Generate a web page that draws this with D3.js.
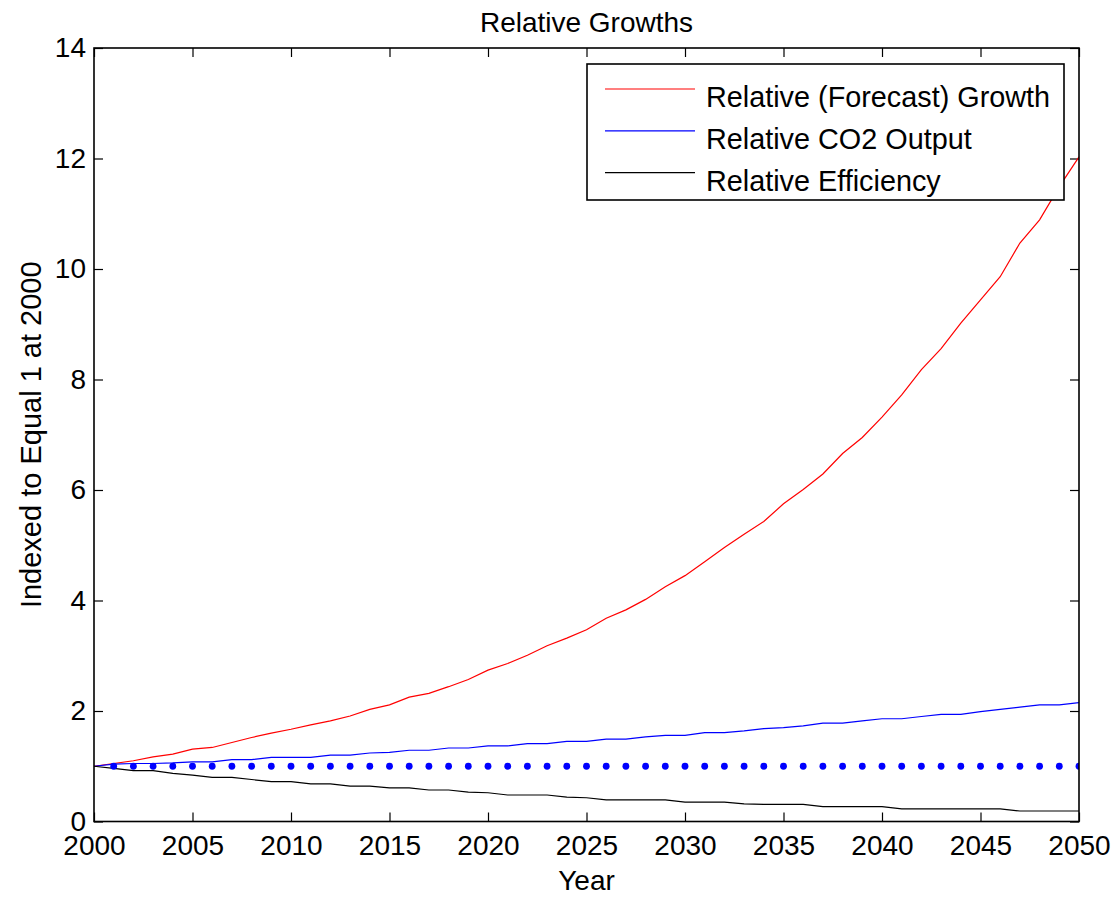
<!DOCTYPE html>
<html>
<head>
<meta charset="utf-8">
<script src="https://cdn.jsdelivr.net/npm/d3@7"></script>
<style>
  body { margin: 0; background: #fff; }
  svg text { font-family: "Liberation Sans", Arial, Helvetica, sans-serif; fill: #000; }
</style>
</head>
<body>
<div id="chart"></div>
<script>
const width = 1112;
const height = 897;
const box = { left: 94, right: 1079, top: 48, bottom: 821.5 };

// data
const years = d3.range(2000, 2051);
const growth = [
    1.00, 1.05, 1.10, 1.17, 1.22, 1.31, 1.34, 1.43, 1.52, 1.60,
    1.67, 1.75, 1.82, 1.91, 2.03, 2.11, 2.25, 2.32, 2.44, 2.57,
    2.74, 2.86, 3.01, 3.18, 3.32, 3.47, 3.68, 3.83, 4.02, 4.25,
    4.45, 4.70, 4.96, 5.20, 5.43, 5.75, 6.01, 6.29, 6.66, 6.95,
    7.32, 7.72, 8.18, 8.56, 9.02, 9.44, 9.86, 10.47, 10.89, 11.49,
    12.03
];
const co2 = [
    1.00, 1.04, 1.05, 1.05, 1.06, 1.08, 1.08, 1.12, 1.12, 1.16,
    1.16, 1.16, 1.20, 1.20, 1.24, 1.25, 1.29, 1.29, 1.33, 1.33,
    1.37, 1.37, 1.41, 1.41, 1.45, 1.45, 1.49, 1.49, 1.53, 1.56,
    1.56, 1.61, 1.61, 1.64, 1.68, 1.70, 1.73, 1.78, 1.78, 1.82,
    1.86, 1.86, 1.90, 1.94, 1.94, 1.99, 2.03, 2.07, 2.11, 2.11,
    2.15
];
const efficiency = [
    1.00, 0.96, 0.92, 0.92, 0.87, 0.84, 0.80, 0.80, 0.76, 0.72,
    0.72, 0.68, 0.68, 0.64, 0.64, 0.61, 0.61, 0.57, 0.57, 0.53,
    0.52, 0.48, 0.48, 0.48, 0.44, 0.43, 0.39, 0.39, 0.39, 0.39,
    0.35, 0.35, 0.35, 0.32, 0.31, 0.31, 0.31, 0.27, 0.27, 0.27,
    0.27, 0.23, 0.23, 0.23, 0.23, 0.23, 0.23, 0.19, 0.19, 0.19,
    0.19
];
// dotted reference at 1.0
const refYears = d3.range(2001, 2051);
const refValue = 1;

const xTicks = [2000, 2005, 2010, 2015, 2020, 2025, 2030, 2035, 2040, 2045, 2050];
const yTicks = [0, 2, 4, 6, 8, 10, 12, 14];

const seriesNames = ['Relative (Forecast) Growth', 'Relative CO2 Output', 'Relative Efficiency'];
const seriesColors = ['#ff0000', '#0000ff', '#000000'];

const svg = d3.select('#chart')
    .append('svg')
    .attr('width', width)
    .attr('height', height);

const x = d3.scaleLinear().domain([2000, 2050]).range([box.left, box.right]);
const y = d3.scaleLinear().domain([0, 14]).range([box.bottom, box.top]);

svg.append('defs')
    .append('clipPath')
    .attr('id', 'plot-clip')
    .append('rect')
    .attr('x', box.left)
    .attr('y', box.top)
    .attr('width', box.right - box.left)
    .attr('height', box.bottom - box.top);

// axes, ticks pointing inward like matlab
function styleAxis(g) {
    g.select('.domain').remove();
    g.selectAll('.tick line').attr('stroke', '#000').attr('stroke-width', 1.2);
    g.selectAll('.tick text').style('font-size', '28px');
}

svg.append('g')
    .attr('transform', `translate(0,${box.bottom})`)
    .call(d3.axisBottom(x).tickValues(xTicks).tickFormat(d3.format('d')).tickSizeInner(-9).tickSizeOuter(0).tickPadding(14))
    .call(styleAxis);

svg.append('g')
    .attr('transform', `translate(0,${box.top})`)
    .call(d3.axisTop(x).tickValues(xTicks).tickFormat('').tickSizeInner(-9).tickSizeOuter(0))
    .call(styleAxis);

svg.append('g')
    .attr('transform', `translate(${box.left},0)`)
    .call(d3.axisLeft(y).tickValues(yTicks).tickSizeInner(-9).tickSizeOuter(0).tickPadding(8))
    .call(styleAxis);

svg.append('g')
    .attr('transform', `translate(${box.right},0)`)
    .call(d3.axisRight(y).tickValues(yTicks).tickFormat('').tickSizeInner(-9).tickSizeOuter(0))
    .call(styleAxis);

// lines
const plot = svg.append('g').attr('clip-path', 'url(#plot-clip)');
const line = d3.line().x((d, i) => x(years[i])).y(d => y(d));

[growth, co2, efficiency].forEach((values, i) => {
    plot.append('path')
        .datum(values)
        .attr('fill', 'none')
        .attr('stroke', seriesColors[i])
        .attr('stroke-width', 1.2)
        .attr('d', line);
});

plot.append('g')
    .selectAll('circle')
    .data(refYears)
    .enter()
    .append('circle')
    .attr('cx', d => x(d))
    .attr('cy', y(refValue))
    .attr('r', 3.4)
    .attr('fill', '#0000ff');

// frame
svg.append('rect')
    .attr('x', box.left)
    .attr('y', box.top)
    .attr('width', box.right - box.left)
    .attr('height', box.bottom - box.top)
    .attr('fill', 'none')
    .attr('stroke', '#000')
    .attr('stroke-width', 1.6);

// titles
svg.append('text')
    .attr('x', (box.left + box.right) / 2)
    .attr('y', 32)
    .attr('text-anchor', 'middle')
    .style('font-size', '28px')
    .text('Relative Growths');

svg.append('text')
    .attr('x', (box.left + box.right) / 2)
    .attr('y', 890)
    .attr('text-anchor', 'middle')
    .style('font-size', '28px')
    .text('Year');

svg.append('text')
    .attr('transform', `translate(41,${(box.top + box.bottom) / 2}) rotate(-90)`)
    .attr('text-anchor', 'middle')
    .style('font-size', '29px')
    .text('Indexed to Equal 1 at 2000');

// legend
const legend = svg.append('g').attr('transform', 'translate(587,64)');
legend.append('rect')
    .attr('width', 477)
    .attr('height', 136)
    .attr('fill', '#fff')
    .attr('stroke', '#000')
    .attr('stroke-width', 1.6);

const rows = legend.selectAll('g.row')
    .data(seriesNames)
    .enter()
    .append('g')
    .attr('class', 'row')
    .attr('transform', (d, i) => `translate(0,${25 + i * 41.8})`);

rows.append('line')
    .attr('x1', 18)
    .attr('x2', 108)
    .attr('stroke', (d, i) => seriesColors[i])
    .attr('stroke-width', 1.2);

rows.append('text')
    .attr('x', 119)
    .attr('y', 18)
    .style('font-size', '28.8px')
    .text(d => d);
</script>
</body>
</html>
